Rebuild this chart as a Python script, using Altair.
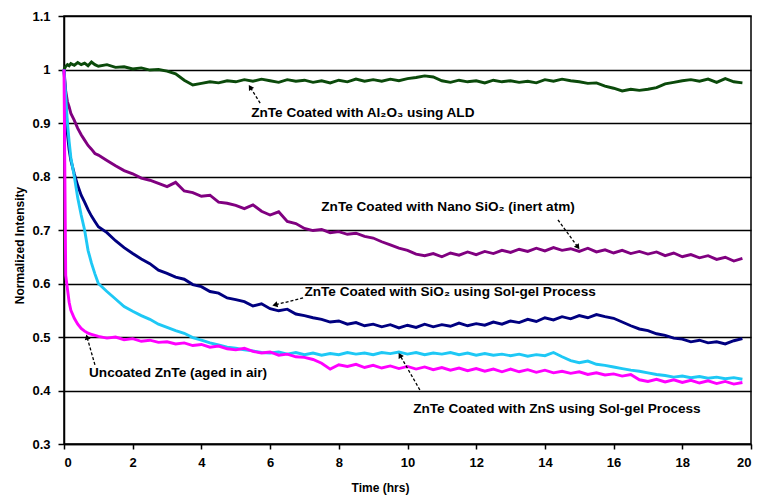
import math
import altair as alt
import pandas as pd

times = [0, 0.05, 0.1, 0.15, 0.2, 0.3, 0.4, 0.5, 0.6, 0.7, 0.8, 0.9,
         1.0, 1.25, 1.5, 1.75, 2.0, 2.25, 2.5, 2.75,
         3.0, 3.25, 3.5, 3.75, 4.0, 4.25, 4.5, 4.75,
         5.0, 5.25, 5.5, 5.75, 6.0, 6.25, 6.5, 6.75,
         7.0, 7.25, 7.5, 7.75, 8.0, 8.25, 8.5, 8.75,
         9.0, 9.25, 9.5, 9.75, 10.0, 10.25, 10.5, 10.75,
         11.0, 11.25, 11.5, 11.75, 12.0, 12.25, 12.5, 12.75,
         13.0, 13.25, 13.5, 13.75, 14.0, 14.25, 14.5, 14.75,
         15.0, 15.25, 15.5, 15.75, 16.0, 16.25, 16.5, 16.75,
         17.0, 17.25, 17.5, 17.75, 18.0, 18.25, 18.5, 18.75,
         19.0, 19.25, 19.5, 19.75]

al2o3_ald = [1.000, 1.006, 1.009, 1.007, 1.011, 1.008, 1.013, 1.009, 1.012, 1.007, 1.014, 1.009,
             1.006, 1.009, 1.004, 1.005, 1.001, 1.003, 0.999, 1.000,
             0.997, 0.992, 0.980, 0.971, 0.974, 0.977, 0.975, 0.979,
             0.977, 0.981, 0.978, 0.982, 0.979, 0.976, 0.981, 0.978,
             0.980, 0.976, 0.979, 0.975, 0.980, 0.977, 0.982, 0.978,
             0.981, 0.978, 0.982, 0.979, 0.983, 0.985, 0.988, 0.986,
             0.979, 0.976, 0.980, 0.977, 0.979, 0.975, 0.980, 0.977,
             0.979, 0.976, 0.978, 0.975, 0.981, 0.978, 0.982, 0.979,
             0.977, 0.974, 0.975, 0.969, 0.965, 0.960, 0.963, 0.961,
             0.963, 0.966, 0.973, 0.976, 0.979, 0.981, 0.978, 0.982,
             0.976, 0.983, 0.977, 0.975]

nano_sio2 = [1.000, 0.960, 0.940, 0.930, 0.918, 0.905, 0.890, 0.878, 0.868, 0.858, 0.851, 0.843,
             0.840, 0.830, 0.820, 0.811, 0.805, 0.797, 0.793, 0.787,
             0.781, 0.789, 0.773, 0.770, 0.763, 0.765, 0.752, 0.750,
             0.746, 0.740, 0.747, 0.735, 0.728, 0.734, 0.716, 0.712,
             0.703, 0.699, 0.701, 0.695, 0.697, 0.692, 0.694, 0.688,
             0.685, 0.678, 0.672, 0.666, 0.662, 0.655, 0.652, 0.656,
             0.650, 0.657, 0.653, 0.659, 0.654, 0.660, 0.656, 0.662,
             0.658, 0.664, 0.660, 0.666, 0.661, 0.667, 0.662, 0.665,
             0.660, 0.666, 0.659, 0.663, 0.657, 0.662, 0.656, 0.660,
             0.655, 0.659, 0.652, 0.657, 0.650, 0.654, 0.648, 0.652,
             0.645, 0.649, 0.642, 0.647]

sio2_solgel = [1.000, 0.940, 0.880, 0.850, 0.830, 0.805, 0.783, 0.765, 0.752, 0.738, 0.726, 0.716,
               0.706, 0.695, 0.680, 0.667, 0.656, 0.646, 0.637, 0.625,
               0.619, 0.612, 0.608, 0.598, 0.594, 0.585, 0.582, 0.573,
               0.570, 0.566, 0.558, 0.562, 0.553, 0.549, 0.552, 0.543,
               0.540, 0.536, 0.533, 0.528, 0.530, 0.524, 0.527, 0.521,
               0.524, 0.519, 0.523, 0.517, 0.522, 0.518, 0.524, 0.519,
               0.523, 0.520, 0.526, 0.521, 0.525, 0.522, 0.528, 0.524,
               0.530, 0.527, 0.533, 0.529, 0.536, 0.532, 0.538, 0.534,
               0.540, 0.536, 0.542, 0.538, 0.535, 0.528, 0.521, 0.515,
               0.512, 0.506, 0.503, 0.498, 0.496, 0.491, 0.494, 0.489,
               0.491, 0.487, 0.493, 0.497]

zns_solgel = [1.000, 0.950, 0.900, 0.865, 0.835, 0.800, 0.760, 0.728, 0.700, 0.662, 0.638, 0.618,
              0.600, 0.585, 0.571, 0.557, 0.548, 0.540, 0.533, 0.524,
              0.518, 0.512, 0.507, 0.499, 0.494, 0.489, 0.485, 0.481,
              0.479, 0.476, 0.474, 0.471, 0.470, 0.472, 0.468, 0.471,
              0.467, 0.470, 0.466, 0.469, 0.467, 0.471, 0.468, 0.470,
              0.467, 0.471, 0.469, 0.472, 0.468, 0.471, 0.467, 0.470,
              0.468, 0.471, 0.467, 0.470, 0.466, 0.469, 0.466, 0.468,
              0.465, 0.468, 0.464, 0.467, 0.465, 0.471, 0.463, 0.456,
              0.452, 0.455, 0.449, 0.447, 0.444, 0.441, 0.438, 0.436,
              0.433, 0.430, 0.428, 0.425, 0.427, 0.424, 0.426, 0.423,
              0.425, 0.422, 0.424, 0.421]

uncoated = [1.000, 0.615, 0.590, 0.565, 0.550, 0.535, 0.524, 0.516, 0.511, 0.507, 0.505, 0.503,
            0.501, 0.498, 0.500, 0.495, 0.497, 0.492, 0.494, 0.490,
            0.491, 0.487, 0.489, 0.484, 0.486, 0.481, 0.483, 0.478,
            0.476, 0.479, 0.473, 0.470, 0.472, 0.466, 0.468, 0.463,
            0.462, 0.458, 0.451, 0.440, 0.448, 0.445, 0.449, 0.443,
            0.447, 0.442, 0.446, 0.441, 0.445, 0.440, 0.444, 0.439,
            0.443, 0.438, 0.442, 0.437, 0.441, 0.436, 0.440, 0.435,
            0.440, 0.435, 0.439, 0.434, 0.438, 0.433, 0.436, 0.432,
            0.435, 0.430, 0.433, 0.429, 0.431, 0.427, 0.430, 0.420,
            0.417, 0.421, 0.416, 0.420, 0.415, 0.419, 0.414, 0.418,
            0.413, 0.417, 0.412, 0.415]

series_names = ["Al2O3 ALD", "Nano SiO2", "SiO2 sol-gel", "ZnS sol-gel", "Uncoated"]
series_values = [al2o3_ald, nano_sio2, sio2_solgel, zns_solgel, uncoated]
series_colors = ["#0b4a0b", "#800080", "#000080", "#1ec8f5", "#ff00ff"]

label_texts = ["ZnTe Coated with Al\u2082O\u2083 using ALD",
               "ZnTe Coated with Nano SiO\u2082 (inert atm)",
               "ZnTe Coated with SiO\u2082 using Sol-gel Process",
               "Uncoated ZnTe (aged in air)",
               "ZnTe Coated with ZnS using Sol-gel Process"]
label_t = [8.7, 11.18, 11.24, 3.32, 14.35]
label_v = [0.919, 0.743, 0.584, 0.433, 0.365]

arrow_t0 = [5.71, 14.38, 6.96, 0.90, 10.36]
arrow_v0 = [0.937, 0.719, 0.573, 0.448, 0.401]
arrow_t1 = [5.42, 14.96, 6.14, 0.67, 9.78]
arrow_v1 = [0.967, 0.668, 0.560, 0.500, 0.466]

W, H = 687, 428
PX_T = W / 20.0
PX_V = H / 0.8

x_scale = alt.Scale(domain=[0, 20], nice=False)
y_scale = alt.Scale(domain=[0.3, 1.1], nice=False)

FONT = "Liberation Sans"

layers = []
first = True
for name, vals, col in zip(series_names, series_values, series_colors):
    df = pd.DataFrame({"t": times, "v": vals})
    if first:
        xenc = alt.X("t:Q", scale=x_scale,
                     axis=alt.Axis(values=[0, 2, 4, 6, 8, 10, 12, 14, 16, 18, 20],
                                   title="Time (hrs)", grid=False, tickSize=5,
                                   labelPadding=7, titleX=316, titleY=43,
                                   titleBaseline="middle"))
        yenc = alt.Y("v:Q", scale=y_scale,
                     axis=alt.Axis(values=[0.3, 0.4, 0.5, 0.6, 0.7, 0.8, 0.9, 1.0, 1.1],
                                   format=".1~f", title="Normalized Intensity",
                                   grid=True, tickSize=6, labelPadding=8,
                                   titleX=-45, titleY=229, titleBaseline="middle",
                                   titleAngle=-90))
        first = False
    else:
        xenc = alt.X("t:Q", scale=x_scale)
        yenc = alt.Y("v:Q", scale=y_scale)
    layers.append(alt.Chart(df).mark_line(color=col, strokeWidth=2.9).encode(x=xenc, y=yenc))

lab_df = pd.DataFrame({"t": label_t, "v": label_v, "txt": label_texts})
layers.append(alt.Chart(lab_df).mark_text(font=FONT, fontSize=13.6, fontWeight="bold",
                                          color="black", align="center", baseline="middle")
              .encode(x=alt.X("t:Q", scale=x_scale), y=alt.Y("v:Q", scale=y_scale), text="txt:N"))

angles = []
for a, b, c, d in zip(arrow_t0, arrow_v0, arrow_t1, arrow_v1):
    dx = (c - a) * PX_T
    dy = -(d - b) * PX_V
    angles.append(math.degrees(math.atan2(dx, -dy)) % 360)

arr_df = pd.DataFrame({"t0": arrow_t0, "v0": arrow_v0, "t1": arrow_t1, "v1": arrow_v1, "ang": angles})
layers.append(alt.Chart(arr_df).mark_rule(color="black", strokeWidth=1.3, strokeDash=[3, 2])
              .encode(x=alt.X("t0:Q", scale=x_scale), y=alt.Y("v0:Q", scale=y_scale),
                      x2="t1:Q", y2="v1:Q"))
layers.append(alt.Chart(arr_df).mark_point(shape="triangle-up", filled=True, color="black",
                                           size=36, opacity=1)
              .encode(x=alt.X("t1:Q", scale=x_scale), y=alt.Y("v1:Q", scale=y_scale),
                      angle=alt.Angle("ang:Q", scale=None)))

chart = alt.layer(*layers).properties(
    width=W, height=H,
    autosize=alt.AutoSizeParams(type="none"),
    padding={"left": 64, "top": 16, "right": 8, "bottom": 53},
    background="white",
).configure_view(stroke="black", strokeWidth=1.5).configure_axis(
    domainColor="black", domainWidth=1.5, tickColor="black", tickWidth=1.5,
    gridColor="black", gridWidth=1.5, gridOpacity=1,
    labelFont=FONT, labelFontSize=13, labelFontWeight="bold", labelColor="black",
    titleFont=FONT, titleFontSize=12, titleFontWeight="bold", titleColor="black",
)

chart.save("out.html", embed_options={"renderer": "svg", "actions": False})
